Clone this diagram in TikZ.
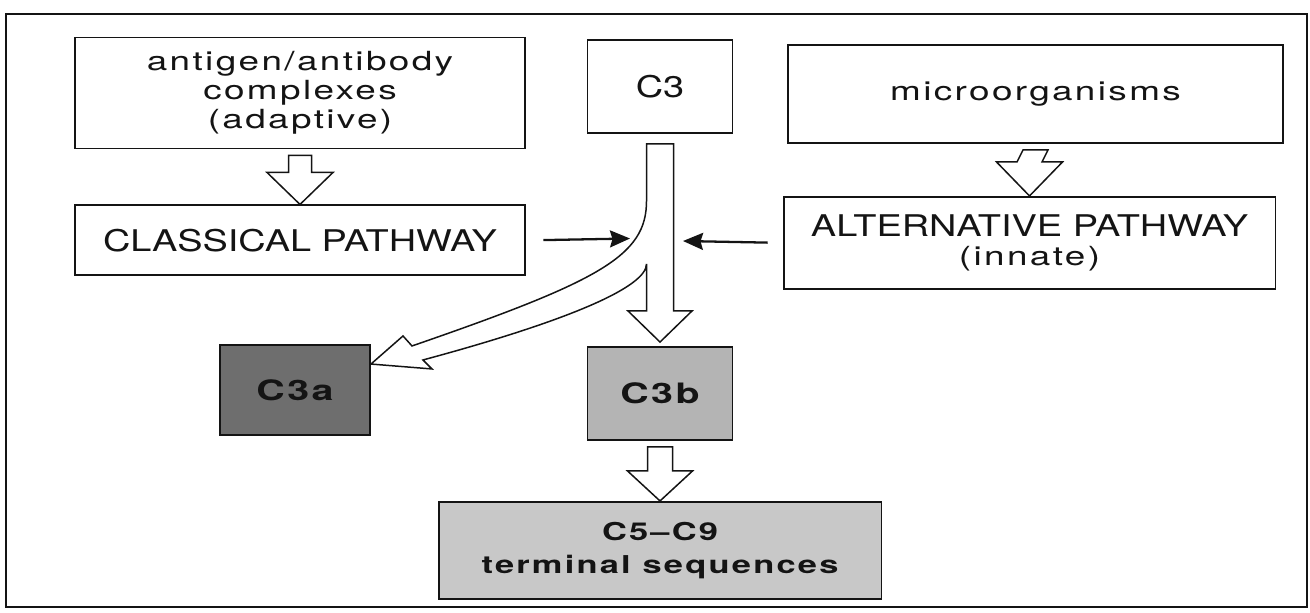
\documentclass[tikz,border=0pt]{standalone}
\usepackage{fontspec}
\setmainfont{TeX Gyre Heros}
\newfontfamily\capfont{TeX Gyre Heros}[FakeStretch=1.27]
\newfontfamily\widefont{TeX Gyre Heros}[FakeStretch=1.4,LetterSpace=9]
\usetikzlibrary{arrows.meta,positioning,calc}
\definecolor{Ink}{HTML}{141414}
\definecolor{Grain}{HTML}{6E6E6E}
\definecolor{GrainSoft}{HTML}{B4B4B4}
\definecolor{GrainPale}{HTML}{C8C8C8}
\newcommand{\hollowdown}[5]{%
  \draw[hollow] ($(#1.south)+(-#3,6)$) -- ($(#2.north)+(-#3,-#5)$) -- ($(#2.north)+(-#4,-#5)$) -- (#2.north)
    -- ($(#2.north)+(#4,-#5)$) -- ($(#2.north)+(#3,-#5)$) -- ($(#1.south)+(#3,6)$) -- cycle;
}
\tikzset{
  labelbox/.style={draw=Ink,line width=1.1pt,fill=white,inner sep=0pt,align=center,text=Ink},
  lowtext/.style={font=\widefont\fontsize{15}{16.5}\selectfont},
  captext/.style={font=\capfont\fontsize{17}{19}\selectfont},
  grainbox/.style={labelbox,font=\widefont\bfseries\fontsize{16}{19}\selectfont},
  hollow/.style={draw=Ink,line width=0.85pt,fill=white,line join=miter},
  feed/.style={-{Stealth[length=0.4cm,width=0.34cm,inset=0.05cm]},draw=Ink,line width=1.3pt}
}

\begin{document}
\begin{tikzpicture}[x=0.02cm,y=-0.02cm]
  \useasboundingbox (0,0) rectangle (1310,612);
  \draw[Ink,line width=1.4pt] (6,14) rectangle (1307,607);

  \node[labelbox,lowtext,minimum width=9cm,minimum height=2.22cm] (antigen) at (300,93) {antigen/antibody\\complexes\\(adaptive)};
  \node[labelbox,captext,minimum width=2.9cm,minimum height=1.86cm] (c3) at (660,86.5) {C3};
  \node[labelbox,lowtext,minimum width=9.9cm,minimum height=1.96cm] (micro) at (1035.5,94) {microorganisms};

  \node[labelbox,captext,minimum width=9.02cm,minimum height=1.4cm,below=1.1cm of antigen] (classical) {CLASSICAL PATHWAY};
  \node[labelbox,lowtext,minimum width=9.84cm,minimum height=1.84cm,below=1.04cm of micro,xshift=-0.12cm] (alternative)
    {{\capfont\fontsize{17}{19}\selectfont ALTERNATIVE PATHWAY}\\(innate)};

  \node[grainbox,fill=Grain,minimum width=3cm,minimum height=1.8cm] (c3a) at (295,390) {C3a};
  \node[grainbox,fill=GrainSoft,minimum width=2.9cm,minimum height=1.86cm] (c3b) at (660,393.5) {C3b};
  \node[grainbox,fill=GrainPale,minimum width=8.86cm,minimum height=1.94cm,font=\widefont\bfseries\fontsize{14}{19}\selectfont,below=1.2cm of c3b] (terminal)
    {C5\textendash C9\\terminal sequences};

  \hollowdown{antigen}{classical}{11.5}{33}{32}
  \hollowdown{micro}{alternative}{12.5}{33}{34}
  \hollowdown{c3b}{terminal}{12.5}{32.5}{30}

  \coordinate (c3top) at ($(c3.south)+(0,10)$);
  \coordinate (c3btip) at ($(c3b.north)+(0,-4)$);
  \coordinate (c3atip) at ($(c3a.north east)+(0,20)$);
  \begin{scope}[shift={(c3top)}]
    \draw[hollow] (-13.5,0) -- (-13.5,57) .. controls (-13.5,112) and (-60,137) .. (-248,202) -- (-257,192) -- (c3atip)
      -- (-228,225) -- (-237,216) .. controls (-85,175) and (-13.5,142) .. (-13.5,120) -- (-13.5,167) -- (-32,167) -- (c3btip)
      -- (32,167) -- (13.5,167) -- (13.5,0) -- cycle;
  \end{scope}

  \coordinate (joinL) at (630,238.5);
  \coordinate (joinR) at (683,241);
  \draw[feed,shorten <=0.34cm] (classical.east) -- (joinL);
  \draw[feed,shorten <=0.3cm] (alternative.west) -- (joinR);
\end{tikzpicture}
\end{document}
